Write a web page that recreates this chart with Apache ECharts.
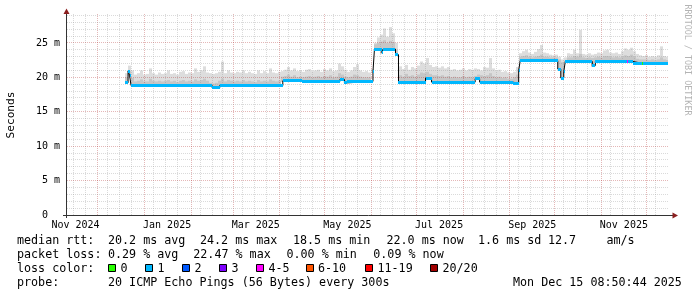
<!DOCTYPE html>
<html><head><meta charset="utf-8"><title>smokeping</title>
<script src="https://cdn.jsdelivr.net/npm/echarts@6/dist/echarts.min.js"></script>
<style>html,body{margin:0;padding:0;background:#fff;}#c{width:697px;height:297px;}</style>
</head><body><div id="c"></div>
<script>
// ---------------- data ----------------
const axisStart = '2024-11-10 08:50';
const axisEnd = '2025-12-15 08:50';
const yMax = 29.2;
const yTickValues = [0, 5, 10, 15, 20, 25];
const yTickLabels = ['0  ', '5 m', '10 m', '15 m', '20 m', '25 m'];
const yMajorGrid = [5, 10, 15, 20, 25];
const yMinorGrid = [1,2,3,4,6,7,8,9,11,12,13,14,16,17,18,19,21,22,23,24,26,27,28,29];
const xLabelTexts = ['Nov 2024', 'Jan 2025', 'Mar 2025', 'May 2025', 'Jul 2025', 'Sep 2025', 'Nov 2025'];
const xLabelDates = ['2024-11-16', '2025-01-16', '2025-03-16', '2025-05-16', '2025-07-16', '2025-09-16', '2025-11-16'];
const monthLineDates = ['2024-12-01','2025-01-01','2025-02-01','2025-03-01','2025-04-01','2025-05-01','2025-06-01',
  '2025-07-01','2025-08-01','2025-09-01','2025-10-01','2025-11-01','2025-12-01'];
const minorLineDates = ['2024-11-15','2024-11-23',
  '2024-12-07','2024-12-15','2024-12-23','2025-01-07','2025-01-15','2025-01-23','2025-02-07','2025-02-15','2025-02-22',
  '2025-03-07','2025-03-15','2025-03-23','2025-04-07','2025-04-15','2025-04-23','2025-05-07','2025-05-15','2025-05-23',
  '2025-06-07','2025-06-15','2025-06-23','2025-07-07','2025-07-15','2025-07-23','2025-08-07','2025-08-15','2025-08-23',
  '2025-09-07','2025-09-15','2025-09-23','2025-10-07','2025-10-15','2025-10-23','2025-11-07','2025-11-15','2025-11-23',
  '2025-12-07'];

// median RTT (ms): level changes
const medianDates = ['2024-12-19','2024-12-21','2024-12-22','2024-12-23','2025-02-15','2025-02-20','2025-04-03','2025-04-16',
  '2025-04-22','2025-05-11','2025-05-14','2025-05-16','2025-06-02','2025-06-03','2025-06-08','2025-06-09','2025-06-17',
  '2025-06-19','2025-07-07','2025-07-11','2025-08-09','2025-08-12','2025-09-03','2025-09-07','2025-09-08','2025-10-03',
  '2025-10-05','2025-10-07','2025-10-08','2025-10-26','2025-10-28','2025-11-18','2025-11-19','2025-11-22','2025-11-28',
  '2025-11-29'];
const medianValues = [19.2,20.9,20.3,18.8,18.45,18.8,19.5,19.35,19.4,19.7,19.2,19.4,20.8,24.1,23.6,24.1,23.3,19.3,19.9,19.3,
  19.8,19.3,19.15,21.0,22.4,21.2,19.9,20.8,22.3,21.7,22.3,22.3,22.3,22.05,22.0,22.0];
const medianLoss = [1,1,1,1,1,1,1,1,1,1,1,1,1,1,1,1,1,1,1,1,1,1,1,1,1,1,1,1,1,1,1,4,1,1,0,1];
const dataEnd = '2025-12-15 08:50';

// smoke (ms), one column every 2 days from smokeStart
const smokeStart = '2024-12-19';
const smokeStepDays = 2;
const smokeMax = [
 20.6,21.7,21.0,20.4,20.6,21.0,20.4,20.5,21.3,20.6,
 20.4,20.7,20.5,20.6,21.0,20.5,20.6,20.4,20.8,20.9,
 20.5,20.7,20.6,21.3,20.8,21.0,21.6,20.7,20.6,20.5,
 20.6,20.8,22.3,20.6,21.0,20.7,20.6,20.8,20.7,21.0,
 20.6,20.8,20.6,20.5,21.0,20.6,20.9,20.6,21.3,20.7,
 20.6,20.8,20.9,21.1,21.5,21.0,21.3,20.9,21.0,20.8,
 21.1,21.2,20.9,21.0,21.1,20.8,21.2,21.0,21.3,20.9,
 21.0,22.0,21.6,21.1,20.8,21.0,21.5,21.9,21.0,20.8,
 20.9,20.7,21.2,25.0,25.8,26.2,27.1,25.9,27.3,26.4,
 25.0,21.6,21.2,21.8,21.1,21.5,21.3,21.7,22.3,22.0,
 22.8,21.8,21.5,21.6,21.4,21.6,21.3,21.5,21.1,21.2,
 21.0,21.1,21.3,21.0,21.2,21.1,21.3,21.2,21.0,21.5,
 21.4,22.8,21.3,21.0,21.1,20.8,20.9,20.7,20.6,20.8,
 21.5,23.5,23.8,24.0,23.6,23.4,23.7,24.1,24.7,23.6,
 23.5,23.3,23.2,23.3,23.0,22.6,22.9,23.5,23.4,24.0,
 23.5,26.9,23.4,23.3,23.5,23.3,23.4,23.6,23.5,23.9,
 24.0,23.6,23.5,23.6,23.4,23.8,24.2,24.0,24.3,23.8,
 23.4,23.2,23.1,23.2,23.0,23.1,23.0,23.2,24.5,23.1,
 23.0];
const smokeMid = [
 20.0,20.9,19.9,19.4,19.5,19.7,19.4,19.4,19.8,19.5,
 19.4,19.5,19.4,19.5,19.6,19.4,19.5,19.3,19.5,19.6,
 19.4,19.5,19.4,19.7,19.5,19.6,19.8,19.5,19.2,19.1,
 19.2,19.5,19.8,19.4,19.6,19.5,19.4,19.5,19.4,19.6,
 19.4,19.5,19.4,19.3,19.6,19.4,19.5,19.4,19.7,19.5,
 19.4,19.5,20.1,20.2,20.4,20.1,20.3,20.0,20.1,20.0,
 20.1,20.2,20.0,20.1,20.2,20.0,20.2,20.1,20.3,20.0,
 20.1,20.6,20.4,20.1,20.0,20.1,20.4,20.3,20.1,20.0,
 20.0,20.0,20.3,24.8,25.0,25.2,25.4,25.0,25.3,25.1,
 24.0,20.3,20.1,20.5,20.2,20.3,20.1,20.4,20.7,20.6,
 20.8,20.5,20.3,20.3,20.2,20.3,20.1,20.2,20.0,20.1,
 20.0,20.0,20.2,20.0,20.1,20.0,20.2,20.4,20.3,20.2,
 20.3,20.6,20.2,20.0,20.1,19.9,20.0,19.8,19.8,20.0,
 20.4,23.0,23.1,23.2,23.0,22.9,23.0,23.1,23.3,23.0,
 23.0,22.9,22.9,22.9,22.6,22.2,22.4,22.9,22.9,23.1,
 23.0,23.4,22.9,22.8,22.9,22.8,22.9,23.0,22.9,23.1,
 23.1,23.0,22.9,23.0,22.9,23.0,23.2,23.1,23.3,23.0,
 22.7,22.6,22.6,22.6,22.5,22.6,22.5,22.6,22.9,22.6,
 22.5];

const lossLabels = ['0', '1', '2', '3', '4-5', '6-10', '11-19', '20/20'];
const lossColors = ['#26ff00', '#00b8ff', '#0059ff', '#7e00ff', '#ff00ff', '#ff5500', '#ff0000', '#a00000'];
const rttLabel = 'median rtt:';
const rttStats = ['20.2 ms avg', '24.2 ms max', '18.5 ms min', '22.0 ms now', '1.6 ms sd', '12.7', 'am/s'];
const lossLabel = 'packet loss:';
const lossStats = ['0.29 % avg', '22.47 % max', '0.00 % min', '0.09 % now'];
const colorLabel = 'loss color:';
const probeLabel = 'probe:';
const probeText = '20 ICMP Echo Pings (56 Bytes) every 300s';
const stampText = 'Mon Dec 15 08:50:44 2025';
const yTitle = 'Seconds';
const watermark = 'RRDTOOL / TOBI OETIKER';

// ---------------- helpers ----------------
const DAYMS = 86400000;
function ts(s) {
  const [d, t] = s.split(' ');
  const [y, m, dd] = d.split('-').map(Number);
  let h = 0, mi = 0;
  if (t) [h, mi] = t.split(':').map(Number);
  return Date.UTC(y, m - 1, dd, h, mi);
}
const T0 = ts(axisStart);
const day = s => (ts(s) - T0) / DAYMS;
const SPAN = day(axisEnd);

const medStarts = medianDates.map(day);
const medEnd = day(dataEnd);
function medianAt(d) {
  let v = medianValues[0];
  for (let i = 0; i < medStarts.length; i++) if (medStarts[i] <= d) v = medianValues[i];
  return v;
}

const MONO = '"DejaVu Sans Mono", monospace';
const GRID = 'rgba(140,140,140,0.32)';
const MGRID = 'rgba(170,30,30,0.32)';

// ---------------- series data ----------------
const xGridData = monthLineDates.map(s => [day(s), 0, 1]).concat(minorLineDates.map(s => [day(s), 0, 0]));
const yGridData = yMajorGrid.map(v => [0, v, 1]).concat(yMinorGrid.map(v => [0, v, 0]));
const s0 = day(smokeStart);
const smokeData = smokeMax.map((hi, i) => {
  const a = s0 + i * smokeStepDays, b = Math.min(a + smokeStepDays, medEnd);
  return [a, b, medianAt(a + smokeStepDays / 2), smokeMid[i], hi];
});
const bandData = medianValues.map((v, i) => [medStarts[i], i + 1 < medStarts.length ? medStarts[i + 1] : medEnd, v, medianLoss[i]]);
const lineData = medianValues.map((v, i) => [medStarts[i], v]).concat([[medEnd, medianValues[medianValues.length - 1]]]);
const xLabelData = xLabelDates.map((s, i) => [day(s), 0, i]);

const chart = echarts.init(document.getElementById('c'), null, {renderer: 'canvas', width: 697, height: 297});

const legendEls = [];
function txt(x, y, text, extra) {
  legendEls.push(Object.assign({type: 'text', x: x, y: y, silent: true,
    style: {text: text, font: '11.7px ' + MONO, fill: '#000', align: 'left', verticalAlign: 'middle',
      textAlign: 'left', textVerticalAlign: 'middle'}}, extra || {}));
}
// legend rows
txt(17, 241, rttLabel);
[108, 200, 293, 386.5, 478, 548, 606.5].forEach((x, i) => txt(x, 241, rttStats[i]));
txt(17, 255, lossLabel);
[108, 193.3, 286.5, 373.3].forEach((x, i) => txt(x, 255, lossStats[i]));
txt(17, 268.5, colorLabel);
const boxX = [108.5, 145.5, 182.5, 219.5, 256.5, 306, 365.5, 430.5];
boxX.forEach((x, i) => {
  legendEls.push({type: 'rect', silent: true, shape: {x: Math.floor(x) + 0.5, y: 264.5, width: 7, height: 7},
    style: {fill: lossColors[i], stroke: '#000', lineWidth: 1}});
  txt(x + 12, 268.5, lossLabels[i]);
});
txt(17, 283, probeLabel);
txt(108, 283, probeText);
txt(513, 283, stampText);
// y title, watermark
legendEls.push({type: 'text', x: 11, y: 115, rotation: Math.PI / 2, silent: true,
  style: {text: yTitle, font: '11.2px ' + MONO, fill: '#000', align: 'center', verticalAlign: 'middle',
    textAlign: 'center', textVerticalAlign: 'middle'}});
legendEls.push({type: 'text', x: 687.5, y: 60, rotation: -Math.PI / 2, silent: true,
  style: {text: watermark, font: '8.4px ' + MONO, fill: '#b4b4b4', align: 'center', verticalAlign: 'middle',
    textAlign: 'center', textVerticalAlign: 'middle'}});
// axes lines and arrows
legendEls.push({type: 'line', silent: true, z: 10, shape: {x1: 66.5, y1: 218, x2: 66.5, y2: 12}, style: {stroke: '#333', lineWidth: 1}});
legendEls.push({type: 'line', silent: true, z: 10, shape: {x1: 63, y1: 215.5, x2: 674, y2: 215.5}, style: {stroke: '#333', lineWidth: 1}});
legendEls.push({type: 'polygon', silent: true, z: 11, shape: {points: [[63.5, 14], [69.5, 14], [66.5, 8.5]]}, style: {fill: '#8b1f1f'}});
legendEls.push({type: 'polygon', silent: true, z: 11, shape: {points: [[672.5, 212.5], [672.5, 218.5], [678, 215.5]]}, style: {fill: '#8b1f1f'}});

const option = {
  animation: false,
  backgroundColor: '#ffffff',
  grid: {left: 67, right: 29, top: 14, bottom: 82, containLabel: false, outerBoundsMode: 'none'},
  xAxis: {type: 'value', min: 0, max: SPAN, axisLine: {show: false}, axisTick: {show: false},
    axisLabel: {show: false}, splitLine: {show: false}},
  yAxis: {type: 'value', min: 0, max: yMax, interval: 5, axisLine: {show: false}, axisTick: {show: false},
    splitLine: {show: false},
    axisLabel: {show: true, showMaxLabel: false, margin: 7, color: '#000', fontFamily: MONO, fontSize: 10,
      formatter: v => { const i = yTickValues.indexOf(v); return i >= 0 ? yTickLabels[i] : ''; }}},
  series: [
    { // smoke
      type: 'custom', coordinateSystem: 'cartesian2d', silent: true, clip: true, z: 1,
      encode: {x: [0, 1], y: [2, 3, 4]},
      data: smokeData,
      renderItem(params, api) {
        const t0 = api.value(0), t1 = api.value(1), lo = api.value(2), mid = api.value(3), hi = api.value(4);
        const a = api.coord([t0, hi]), b = api.coord([t1, lo]), m = api.coord([t0, mid]);
        const x0 = Math.round(a[0]), x1 = Math.round(b[0]);
        const children = [{type: 'rect', shape: {x: x0, y: a[1], width: x1 - x0, height: b[1] - a[1] + 1},
          style: {fill: '#dddddd'}}];
        if (mid > lo) children.push({type: 'rect', shape: {x: x0, y: m[1], width: x1 - x0, height: b[1] - m[1] + 1},
          style: {fill: '#c6c6c6'}});
        return {type: 'group', children: children};
      }
    },
    { // vertical grid
      type: 'custom', coordinateSystem: 'cartesian2d', silent: true, z: 2,
      data: xGridData,
      renderItem(params, api) {
        const cs = params.coordSys;
        const px = Math.floor(api.coord([api.value(0), 0])[0]) + 0.5;
        const major = api.value(2) === 1;
        return {type: 'line', shape: {x1: px, y1: cs.y, x2: px, y2: cs.y + cs.height},
          style: {stroke: major ? MGRID : GRID, lineWidth: 1, lineDash: [1, 1]}};
      }
    },
    { // horizontal grid
      type: 'custom', coordinateSystem: 'cartesian2d', silent: true, z: 2,
      data: yGridData,
      renderItem(params, api) {
        const cs = params.coordSys;
        const py = Math.floor(api.coord([0, api.value(1)])[1]) + 0.5;
        const major = api.value(2) === 1;
        return {type: 'line', shape: {x1: cs.x, y1: py, x2: cs.x + cs.width, y2: py},
          style: {stroke: major ? MGRID : GRID, lineWidth: 1, lineDash: [1, 1]}};
      }
    },
    { // median black line
      type: 'line', step: 'end', data: lineData, showSymbol: false, silent: true, z: 3,
      lineStyle: {color: '#000', width: 1}, clip: true
    },
    { // median colored band
      type: 'custom', coordinateSystem: 'cartesian2d', silent: true, clip: true, z: 4,
      encode: {x: [0, 1], y: 2},
      data: bandData,
      renderItem(params, api) {
        const a = api.coord([api.value(0), api.value(2)]), b = api.coord([api.value(1), api.value(2)]);
        const x0 = Math.round(a[0]), x1 = Math.max(Math.round(b[0]), x0 + 1);
        const y = Math.floor(a[1]) - 1;
        return {type: 'rect', shape: {x: x0, y: y, width: x1 - x0, height: 3}, style: {fill: lossColors[api.value(3)]}};
      }
    },
    { // x labels
      type: 'custom', coordinateSystem: 'cartesian2d', silent: true, z: 5,
      data: xLabelData,
      renderItem(params, api) {
        const p = api.coord([api.value(0), 0]);
        return {type: 'text', x: p[0], y: 225,
          style: {text: xLabelTexts[api.value(2)], font: '10px ' + MONO, fill: '#000', align: 'center',
            verticalAlign: 'middle', textAlign: 'center', textVerticalAlign: 'middle'}};
      }
    }
  ],
  graphic: {elements: legendEls}
};
chart.setOption(option);
</script></body></html>
